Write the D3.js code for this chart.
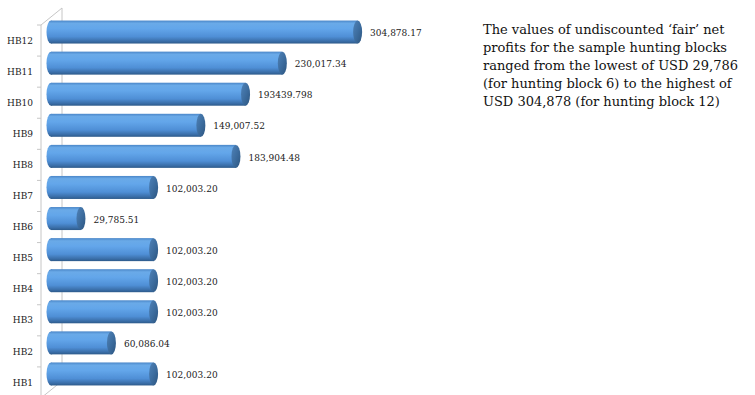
<!DOCTYPE html>
<html><head><meta charset="utf-8">
<script src="https://cdn.jsdelivr.net/npm/d3@7"></script>
<style>body{margin:0;background:#fff}svg{display:block}</style>
</head><body>
<svg id="c" width="755" height="395"></svg>
<script>
const categories = ["HB1","HB2","HB3","HB4","HB5","HB6","HB7","HB8","HB9","HB10","HB11","HB12"];
const values = [102003.20, 60086.04, 102003.20, 102003.20, 102003.20, 29785.51, 102003.20, 183904.48, 149007.52, 193439.798, 230017.34, 304878.17];
const valueLabels = ["102,003.20","60,086.04","102,003.20","102,003.20","102,003.20","29,785.51","102,003.20","183,904.48","149,007.52","193439.798","230,017.34","304,878.17"];
const noteLines = [
  "The values of undiscounted \u2018fair\u2019 net",
  "profits for the sample hunting blocks",
  "ranged from the lowest of USD 29,786",
  "(for hunting block 6) to the highest of",
  "USD 304,878 (for hunting block 12)"
];

const svg = d3.select("#c");
const font = "'DejaVu Serif', serif";
const depthX = 21, depthY = 17;
const front = {left: 41, top: 25, bottom: 398};

const y = d3.scaleBand().domain(categories.slice().reverse()).range([front.top, front.bottom]).paddingInner(0).paddingOuter(0);
const x = d3.scaleLinear().domain([0, 350000]).range([51, 403]);

const defs = svg.append("defs");
const g1 = defs.append("linearGradient").attr("id","body").attr("x1",0).attr("y1",0).attr("x2",0).attr("y2",1);
[[0,"#4a86c8"],[0.12,"#6aaae8"],[0.35,"#63a6ea"],[0.7,"#4f8fd6"],[0.9,"#3a6ea8"],[1,"#2d5a8a"]].forEach(s=>g1.append("stop").attr("offset",s[0]).attr("stop-color",s[1]));
const g2 = defs.append("linearGradient").attr("id","cap").attr("x1",0).attr("y1",0).attr("x2",1).attr("y2",1);
[[0,"#4f82b8"],[0.5,"#3d6d9f"],[1,"#2c5580"]].forEach(s=>g2.append("stop").attr("offset",s[0]).attr("stop-color",s[1]));

// walls
const wall = svg.append("g").attr("stroke","#c6c6c6").attr("stroke-width",1).attr("fill","none");
wall.append("line").attr("x1",front.left+depthX).attr("x2",front.left+depthX).attr("y1",front.top-depthY).attr("y2",front.bottom-depthY);
wall.append("line").attr("x1",front.left).attr("x2",front.left+depthX).attr("y1",front.top).attr("y2",front.top-depthY);
wall.append("line").attr("x1",front.left).attr("x2",front.left+depthX).attr("y1",front.bottom).attr("y2",front.bottom-depthY);
wall.append("line").attr("x1",front.left).attr("x2",front.left).attr("y1",front.top).attr("y2",front.bottom);
// ticks between categories
const edges = categories.map(c=>y(c)).concat([front.bottom]);
wall.selectAll(".tk").data(edges).join("line").attr("x1",front.left-4).attr("x2",front.left).attr("y1",d=>d).attr("y2",d=>d);

// axis labels
svg.append("g").selectAll("text").data(categories).join("text")
  .attr("x",33).attr("y",d=>y(d)+y.bandwidth()/2).attr("dy","0.35em")
  .attr("text-anchor","end").attr("font-family",font).attr("font-size",9).attr("fill","#222").text(d=>d);

// bars
const bh = 23, rx = 4.5, off = -8.5;
const bars = svg.append("g").selectAll("g").data(categories.map((c,i)=>({c,v:values[i],l:valueLabels[i]}))).join("g");
bars.append("ellipse").attr("cx",x(0)).attr("cy",d=>y(d.c)+y.bandwidth()/2+off).attr("rx",rx).attr("ry",bh/2).attr("fill","url(#body)");
bars.append("rect").attr("x",x(0)).attr("width",d=>x(d.v)-x(0)).attr("y",d=>y(d.c)+y.bandwidth()/2+off-bh/2).attr("height",bh).attr("fill","url(#body)");
bars.append("ellipse").attr("cx",d=>x(d.v)).attr("cy",d=>y(d.c)+y.bandwidth()/2+off).attr("rx",rx).attr("ry",bh/2).attr("fill","url(#cap)");
bars.append("text").attr("x",d=>x(d.v)+rx+8).attr("y",d=>y(d.c)+y.bandwidth()/2+off+1).attr("dy","0.35em")
  .attr("font-family",font).attr("font-size",9).attr("fill","#222").text(d=>d.l);

// note
svg.append("g").selectAll("text").data(noteLines).join("text")
  .attr("x",483).attr("y",(d,i)=>34+i*18).attr("font-family",font).attr("font-size",13).attr("fill","#111").text(d=>d);
</script>
</body></html>
